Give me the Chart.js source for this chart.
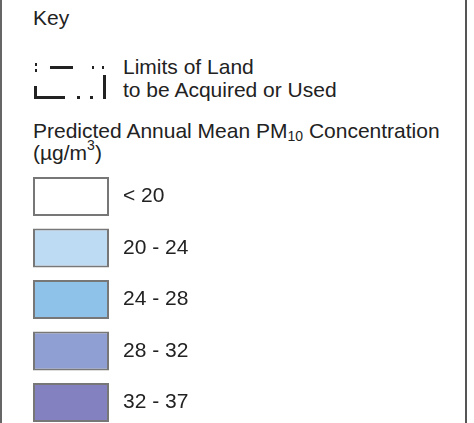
<!DOCTYPE html>
<html>
<head>
<meta charset="utf-8">
<script src="https://cdn.jsdelivr.net/npm/chart.js@4"></script>
<style>
  html, body { margin: 0; padding: 0; background: #fff; overflow: hidden; }
  body { width: 474px; height: 423px; position: relative; font-family: "Liberation Sans", Arial, sans-serif; color: #222; }
  .frame { position: absolute; left: 0; top: 0; width: 463px; height: 423px; border-left: 2px solid #666; border-right: 2px solid #555; }
  .txt { position: absolute; font-size: 21px; line-height: 20px; white-space: nowrap; }
  sub { font-size: 14px; vertical-align: -3px; line-height: 0; }
  sup { font-size: 14px; vertical-align: 10px; line-height: 0; }
  #symbol { position: absolute; left: 0; top: 0; }
  #wrap { position: absolute; left: 0; top: 160px; width: 474px; height: 270px; }
</style>
</head>
<body>
<div class="frame"></div>

<div class="txt" style="left:33px; top:8px;">Key</div>

<svg id="symbol" width="130" height="110" fill="#222">
  <rect x="35" y="63" width="2" height="3"/>
  <rect x="35" y="69" width="2" height="3"/>
  <rect x="50" y="66" width="23" height="3"/>
  <rect x="92" y="66" width="2" height="3"/>
  <rect x="102" y="66" width="2" height="3"/>
  <rect x="34" y="86" width="3" height="13"/>
  <rect x="34" y="96" width="31" height="3"/>
  <rect x="77" y="96" width="3" height="3"/>
  <rect x="90" y="96" width="3" height="3"/>
  <rect x="103" y="75" width="3" height="24"/>
</svg>
<div class="txt" style="left:123px; top:55px; line-height:23px;">Limits of Land<br>to be Acquired or Used</div>

<div class="txt" style="left:33px; top:120px; line-height:22px;">Predicted Annual Mean PM<sub>10</sub> Concentration<br>(µg/m<sup>3</sup>)</div>

<div id="wrap"><canvas id="key"></canvas></div>

<script>
  // PM10 concentration bands (µg/m3) and their fill colours
  const bands = ['< 20', '20 - 24', '24 - 28', '28 - 32', '32 - 37'];
  const swatch = [1, 1, 1, 1, 1];
  const fills = ['#ffffff', '#bddbf3', '#8fc2e8', '#8f9fd3', '#8381c0'];

  new Chart(document.getElementById('key'), {
    type: 'bar',
    data: {
      labels: bands,
      datasets: [{
        data: swatch,
        backgroundColor: fills,
        borderColor: '#777777',
        borderWidth: 2,
        borderSkipped: false,
        barThickness: 39,
        inflateAmount: 0,
      }],
    },
    options: {
      indexAxis: 'y',
      responsive: true,
      maintainAspectRatio: false,
      animation: false,
      events: [],
      layout: { padding: { left: 33, right: 0, top: 10.75, bottom: 1.75 } },
      plugins: {
        legend: { display: false },
        tooltip: { enabled: false },
      },
      scales: {
        x: { display: false, min: 0, max: 1 },
        y: {
          position: 'right',
          grid: { display: false, drawTicks: false },
          border: { display: false },
          ticks: {
            padding: 14,
            color: '#222',
            font: { family: '"Liberation Sans", Arial, sans-serif', size: 21 },
          },
          afterFit(scale) {
            scale.width = 365;
            scale.paddingTop = 0;
            scale.paddingBottom = 0;
          },
        },
      },
    },
  });
</script>
</body>
</html>
